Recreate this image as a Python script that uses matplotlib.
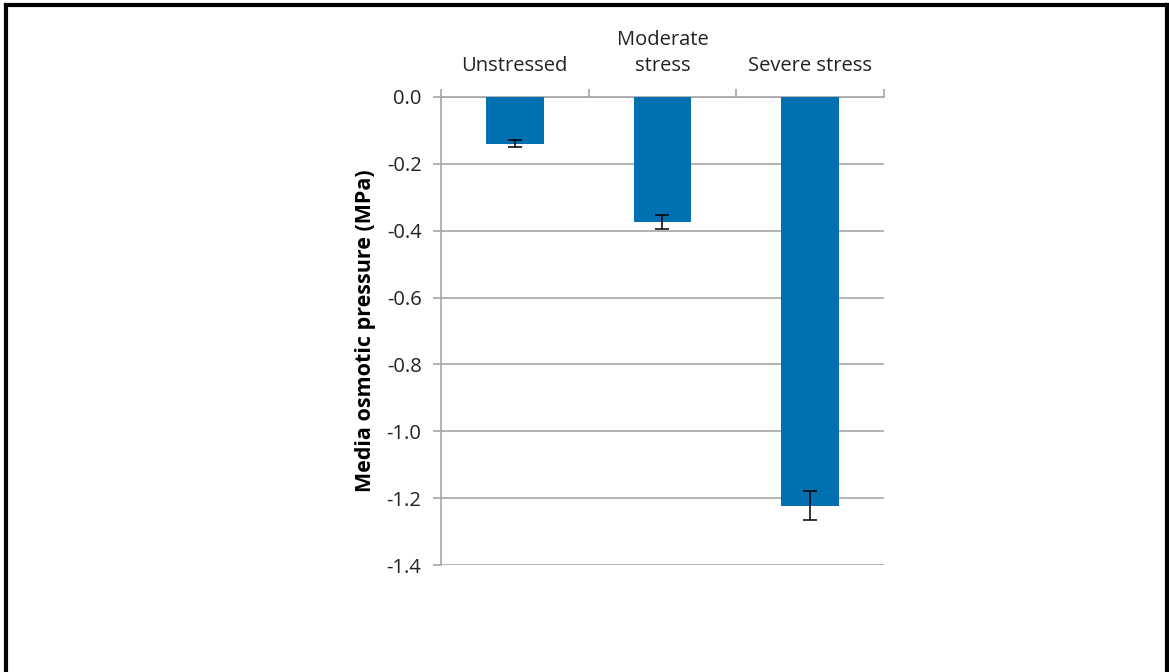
import matplotlib.pyplot as plt
from matplotlib.lines import Line2D

plt.rcParams['font.family'] = ['Open Sans', 'DejaVu Sans']

# data
categories = ['Unstressed', 'Moderate\nstress', 'Severe stress']
values = [-0.14, -0.374, -1.223]
errors = [0.01, 0.021, 0.043]
yticks = [0.0, -0.2, -0.4, -0.6, -0.8, -1.0, -1.2, -1.4]

fig = plt.figure(figsize=(11.69, 6.72), dpi=100)
ax = fig.add_axes([0.3772, 0.1592, 0.379, 0.6965])

x = range(len(categories))
ax.bar(x, values, width=0.39, color='#0070B0', zorder=3)
ax.errorbar(x, values, yerr=errors, fmt='none', ecolor='black',
            elinewidth=1.1, capsize=5, capthick=1.1, zorder=4)

ax.set_xlim(-0.5, 2.5)
ax.set_ylim(-1.4, 0.0)
ax.set_yticks(yticks)
ax.set_yticklabels([f'{t:.1f}' for t in yticks], fontsize=14.5, color='#222222')
ax.yaxis.grid(True, color='#A6A6A6', linewidth=1.2, zorder=0)

# category labels on top, ticks at boundaries
ax.xaxis.tick_top()
ax.set_xticks([-0.5, 0.5, 1.5, 2.5])
ax.set_xticklabels([])
ax.tick_params(axis='x', length=6, color='#A6A6A6', width=1.2)
ax.tick_params(axis='y', length=6, color='#A6A6A6', width=1.2, pad=8)
for i, c in enumerate(categories):
    ax.text(i, 1.045, c, transform=ax.get_xaxis_transform(), ha='center',
            va='bottom', fontsize=14.5, color='#222222', linespacing=1.4)

for s in ['right', 'bottom']:
    ax.spines[s].set_visible(False)
for s in ['left', 'top']:
    ax.spines[s].set_color('#A6A6A6')
    ax.spines[s].set_linewidth(1.2)

ax.set_ylabel('Media osmotic pressure (MPa)', fontsize=15.5, fontweight='bold',
              labelpad=8)

# outer frame (bottom edge cut off in the reference)
for xs, ys in [([0.005, 0.005], [0.0, 0.992]), ([0.005, 0.998], [0.992, 0.992]),
               ([0.998, 0.998], [0.0, 0.992])]:
    fig.add_artist(Line2D(xs, ys, color='black', linewidth=3, transform=fig.transFigure))

fig.savefig('out.png', dpi=100)
